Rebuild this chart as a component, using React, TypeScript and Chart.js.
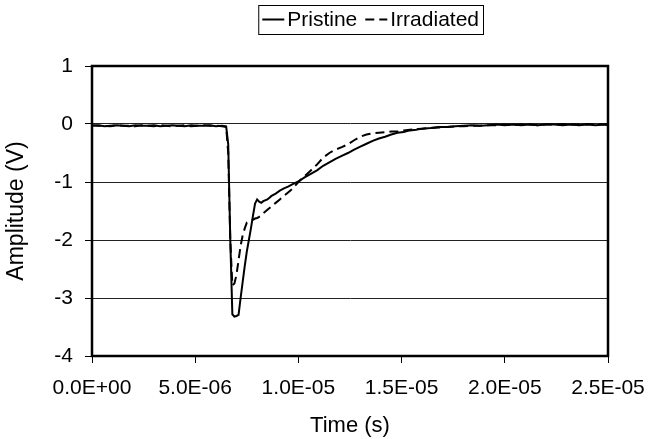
import React, { useEffect, useRef } from "react";
import { Chart, registerables } from "chart.js";

Chart.register(...registerables);

const FONT = "'Liberation Sans', Arial, Helvetica, sans-serif";

// Time in microseconds
const timeMicros = [
  0, 0.3, 0.6, 0.9, 1.2, 1.5, 1.8, 2.1, 2.4, 2.7,
  3.0, 3.3, 3.6, 3.9, 4.2, 4.5, 4.8, 5.1, 5.4, 5.7,
  6.0, 6.3, 6.5, 6.6, 6.7, 6.8, 6.9, 7.0, 7.1, 7.2,
  7.3, 7.4, 7.5, 7.6, 7.7, 7.8, 7.9, 8.0, 8.1, 8.2,
  8.3, 8.5, 8.7, 8.9, 9.1, 9.3, 9.5, 9.7, 10.0, 10.3,
  10.6, 10.9, 11.2, 11.5, 11.8, 12.1, 12.4, 12.7, 13.0, 13.3,
  13.6, 13.9, 14.2, 14.5, 14.8, 15.1, 15.4, 15.7, 16.0, 16.4,
  16.8, 17.2, 17.6, 18.0, 18.4, 18.8, 19.2, 19.6, 20.0, 20.4,
  20.8, 21.2, 21.6, 22.0, 22.4, 22.8, 23.2, 23.6, 24.0, 24.4,
  24.8, 25.0,
];

const pristine = [
  -0.03, -0.02, -0.04, -0.03, -0.02, -0.03, -0.04, -0.02, -0.03, -0.03,
  -0.02, -0.04, -0.03, -0.02, -0.03, -0.04, -0.02, -0.03, -0.03, -0.02,
  -0.04, -0.03, -0.04, -0.35, -2.0, -3.28, -3.32, -3.31, -3.29, -3.0,
  -2.72, -2.45, -2.2, -2.0, -1.8, -1.58, -1.37, -1.3, -1.34, -1.36,
  -1.33, -1.3, -1.24, -1.2, -1.15, -1.11, -1.08, -1.04, -0.99, -0.92,
  -0.86, -0.8, -0.72, -0.66, -0.6, -0.55, -0.5, -0.44, -0.39, -0.34,
  -0.29, -0.25, -0.22, -0.18, -0.15, -0.14, -0.11, -0.1, -0.08, -0.07,
  -0.05, -0.05, -0.04, -0.03, -0.02, -0.03, -0.02, -0.01, -0.02, -0.01,
  -0.02, -0.01, -0.02, -0.01, -0.01, -0.02, -0.01, -0.02, -0.01, -0.02,
  -0.01, -0.02,
];

const irradiated = [
  -0.02, -0.03, -0.03, -0.04, -0.02, -0.03, -0.03, -0.04, -0.02, -0.03,
  -0.04, -0.02, -0.03, -0.04, -0.03, -0.02, -0.04, -0.03, -0.02, -0.03,
  -0.03, -0.04, -0.05, -0.5, -2.0, -2.78, -2.75, -2.6, -2.35, -2.1,
  -1.92, -1.8, -1.7, -1.68, -1.66, -1.65, -1.63, -1.62, -1.6, -1.57,
  -1.54, -1.48, -1.42, -1.36, -1.3, -1.24, -1.18, -1.12, -1.0, -0.9,
  -0.8, -0.7, -0.58, -0.5, -0.44, -0.4, -0.35, -0.28, -0.22, -0.18,
  -0.16, -0.15, -0.14, -0.13, -0.13, -0.11, -0.1, -0.09, -0.08, -0.07,
  -0.06, -0.05, -0.04, -0.04, -0.03, -0.03, -0.02, -0.02, -0.01, -0.02,
  -0.01, -0.01, -0.02, -0.01, -0.01, 0.0, -0.01, -0.01, 0.0, -0.01,
  -0.01, 0.0,
];

const seriesLabels = ["Pristine", "Irradiated"];
const xAxisTitle = "Time (s)";
const yAxisTitle = "Amplitude (V)";
const xMin = 0;
const xMax = 2.5e-5;
const xStep = 5e-6;
const yMin = -4;
const yMax = 1;
const yStep = 1;

function fmtExp(v: number): string {
  if (Math.abs(v) < 1e-15) return "0.0E+00";
  let e = Math.floor(Math.log10(Math.abs(v)) + 1e-9);
  let m = v / Math.pow(10, e);
  if (Math.abs(m) >= 9.95) {
    e += 1;
    m = v / Math.pow(10, e);
  }
  const sign = e < 0 ? "-" : "+";
  return m.toFixed(1) + "E" + sign + String(Math.abs(e)).padStart(2, "0");
}

const frameAndLegend = {
  id: "frameAndLegend",
  afterDraw(chart: any) {
    const { ctx, chartArea } = chart;
    ctx.save();
    // plot frame
    ctx.strokeStyle = "#000";
    ctx.lineWidth = 2.5;
    ctx.strokeRect(
      chartArea.left,
      chartArea.top,
      chartArea.right - chartArea.left,
      chartArea.bottom - chartArea.top
    );

    // legend
    const fs = 21;
    ctx.font = `${fs}px ${FONT}`;
    const sample = 22;
    const gapSampleText = 3;
    const gapItems = 8;
    const pad = 4;
    const w1 = ctx.measureText(seriesLabels[0]).width;
    const w2 = ctx.measureText(seriesLabels[1]).width;
    const total = pad + sample + gapSampleText + w1 + gapItems + sample + gapSampleText + w2 + pad;
    const right = 483;
    const left = right - total;
    const top = 5;
    const height = 29;
    const cy = top + height / 2;
    ctx.lineWidth = 1;
    ctx.strokeStyle = "#000";
    ctx.setLineDash([]);
    ctx.strokeRect(left + 0.5, top + 0.5, total, height);

    let x = left + pad;
    const datasets = chart.data.datasets;
    for (let i = 0; i < 2; i++) {
      const ds = datasets[i];
      ctx.beginPath();
      ctx.lineWidth = 2;
      ctx.setLineDash(ds.borderDash || []);
      ctx.moveTo(x, cy);
      ctx.lineTo(x + sample, cy);
      ctx.stroke();
      ctx.setLineDash([]);
      x += sample + gapSampleText;
      ctx.fillStyle = "#000";
      ctx.textBaseline = "middle";
      ctx.textAlign = "left";
      ctx.fillText(seriesLabels[i], x, cy + 1);
      x += (i === 0 ? w1 : w2) + gapItems;
    }
    ctx.restore();
  },
};

export default function App() {
  const canvasRef = useRef<HTMLCanvasElement | null>(null);

  useEffect(() => {
    const canvas = canvasRef.current;
    if (!canvas) return;
    const toPts = (vals: number[]) =>
      timeMicros.map((t, i) => ({ x: t * 1e-6, y: vals[i] }));

    const chart = new Chart(canvas, {
      type: "line",
      data: {
        datasets: [
          {
            label: seriesLabels[0],
            data: toPts(pristine),
            borderColor: "#000",
            borderWidth: 2,
            pointRadius: 0,
            tension: 0,
            fill: false,
          },
          {
            label: seriesLabels[1],
            data: toPts(irradiated),
            borderColor: "#000",
            borderWidth: 2,
            borderDash: [9, 5],
            pointRadius: 0,
            tension: 0,
            fill: false,
          },
        ],
      },
      options: {
        animation: false,
        responsive: false,
        devicePixelRatio: 1,
        layout: { padding: { top: 66, right: 51, left: 0, bottom: 0 } },
        plugins: {
          legend: { display: false },
          tooltip: { enabled: false },
        },
        scales: {
          x: {
            type: "linear",
            min: xMin,
            max: xMax,
            afterFit: (s: any) => {
              s.height = 83;
            },
            ticks: {
              stepSize: xStep,
              autoSkip: false,
              maxRotation: 0,
              padding: 13,
              color: "#000",
              font: { family: FONT, size: 21 },
              callback: (v: any) => fmtExp(Number(v)),
            },
            grid: {
              drawOnChartArea: false,
              drawTicks: true,
              tickLength: 7,
              tickColor: "#000",
            },
            border: { display: true, color: "#000", width: 2 },
            title: {
              display: true,
              text: xAxisTitle,
              color: "#000",
              font: { family: FONT, size: 22 },
              padding: { top: 0, bottom: 0 },
            },
          },
          y: {
            type: "linear",
            min: yMin,
            max: yMax,
            afterFit: (s: any) => {
              s.width = 92;
            },
            ticks: {
              stepSize: yStep,
              padding: 12,
              color: "#000",
              font: { family: FONT, size: 21 },
              callback: (v: any) => String(Math.round(Number(v))),
            },
            grid: {
              color: "#222",
              lineWidth: 1,
              drawTicks: true,
              tickLength: 7,
              tickColor: "#000",
            },
            border: { display: true, color: "#000", width: 2 },
            title: {
              display: true,
              text: yAxisTitle,
              color: "#000",
              font: { family: FONT, size: 23 },
              padding: { top: 3, bottom: 0 },
            },
          },
        },
      },
      plugins: [frameAndLegend],
    });
    return () => chart.destroy();
  }, []);

  return (
    <div style={{ position: "fixed", left: 0, top: 0, width: 659, height: 439, background: "#fff" }}>
      <canvas ref={canvasRef} width={659} height={439} style={{ display: "block" }} />
    </div>
  );
}
